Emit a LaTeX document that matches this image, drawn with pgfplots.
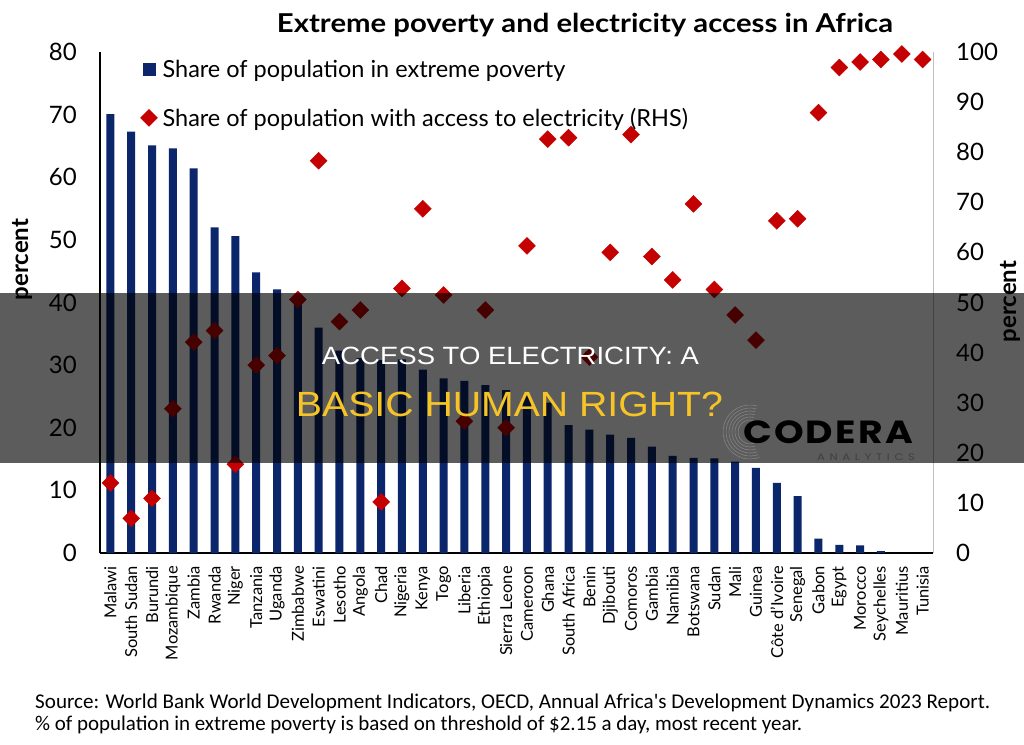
\documentclass[border=0pt]{standalone}
\usepackage{pgfplots}
\pgfplotsset{compat=1.18}
\usepackage{fontspec}
\setmainfont{Lato}
\newfontfamily\bannerfont{Liberation Sans}
\newfontfamily\logofont[LetterSpace=6]{Poppins}
\newfontfamily\smalllogofont[LetterSpace=40]{Poppins}
\newfontfamily\notefont{Carlito}
\definecolor{barblue}{RGB}{12,38,108}
\definecolor{dotred}{RGB}{196,0,0}
\definecolor{bannergold}{RGB}{247,196,38}

% Share of population in extreme poverty (left axis, percent)
\pgfplotstableread{
x  pov
0  70.1
1  67.3
2  65.1
3  64.6
4  61.4
5  52.0
6  50.6
7  44.8
8  42.1
9  39.8
10 36.0
11 32.3
12 31.1
13 30.8
14 30.9
15 29.3
16 27.9
17 27.5
18 26.8
19 26.0
20 25.0
21 24.0
22 20.4
23 19.7
24 18.9
25 18.4
26 17.0
27 15.5
28 15.2
29 15.1
30 14.6
31 13.6
32 11.2
33 9.1
34 2.3
35 1.3
36 1.2
37 0.3
38 0.0
39 0.0
}\povtable

% Share of population with access to electricity (right axis, percent)
\pgfplotstableread{
x  elec
0  14.0
1  6.9
2  10.9
3  28.8
4  42.1
5  44.4
6  17.7
7  37.5
8  39.4
9  50.6
10 78.3
11 46.2
12 48.5
13 10.2
14 52.8
15 68.7
16 51.5
17 26.3
18 48.5
19 25.0
20 61.3
21 82.6
22 82.9
23 39.1
24 60.0
25 83.5
26 59.2
27 54.5
28 69.7
29 52.6
30 47.5
31 42.5
32 66.3
33 66.7
34 87.9
35 96.9
36 98.0
37 98.5
38 99.6
39 98.5
}\electable

\begin{document}
\begin{tikzpicture}[x=1pt,y=1pt]
\useasboundingbox (0,0) rectangle (1024,744);
\fill[white] (0,0) rectangle (1024,744);

\pgfplotsset{
  chartbase/.style={
    at={(100pt,191pt)}, anchor=south west,
    scale only axis, width=833pt, height=501pt,
    xmin=-0.5, xmax=39.5,
    major tick length=0pt,
    tick label style={font=\fontsize{24}{28}\selectfont},
    /pgf/number format/assume math mode=true,
  }
}

% Bars: extreme poverty
\begin{axis}[
  chartbase,
  ymin=0, ymax=80,
  ytick={0,10,...,80},
  axis x line*=bottom, axis y line*=left,
  axis line style={-, black, line width=1.2pt},
  xtick={0,...,39},
  xticklabels={Malawi,South Sudan,Burundi,Mozambique,Zambia,Rwanda,Niger,Tanzania,Uganda,Zimbabwe,Eswatini,Lesotho,Angola,Chad,Nigeria,Kenya,Togo,Liberia,Ethiopia,Sierra Leone,Cameroon,Ghana,South Africa,Benin,Djibouti,Comoros,Gambia,Namibia,Botswana,Sudan,Mali,Guinea,Côte d'Ivoire,Senegal,Gabon,Egypt,Morocco,Seychelles,Mauritius,Tunisia},
  xticklabel style={rotate=90, anchor=east, inner sep=0pt, font=\fontsize{16.5}{18}\selectfont},
  xticklabel shift=13pt,
  yticklabel style={anchor=east, inner sep=0pt},
  yticklabel shift=23pt,
]
\addplot[ybar, bar width=8pt, fill=barblue, draw=none] table[x=x, y=pov] {\povtable};
\end{axis}

% Diamonds: electricity access
\begin{axis}[
  chartbase,
  ymin=0, ymax=100,
  ytick={0,10,...,100},
  axis x line=none, axis y line*=right,
  axis line style={-, black!25, line width=0.8pt},
  yticklabel style={anchor=west, inner sep=0pt},
  yticklabel shift=23pt,
  legend style={at={(0.0485,0.988)}, anchor=north west, draw=none, fill=none,
    font=\fontsize{23.5}{27}\selectfont, row sep=25pt, inner sep=0pt,
    /tikz/every odd column/.append style={column sep=3pt}},
  legend cell align=left,
]
\addlegendimage{only marks, color=barblue, mark=square*, mark size=6pt, mark options={fill=barblue, draw=none}}
\addlegendentry{Share of population in extreme poverty}
\addplot[only marks, color=dotred, mark=square*, mark size=6pt,
  mark options={rotate=45, fill=dotred, draw=none}] table[x=x, y=elec] {\electable};
\addlegendentry{Share of population with access to electricity (RHS)}
\end{axis}

% Titles and axis labels
\node[font=\bfseries\fontsize{26}{30}\selectfont] at (585,719)
  {\resizebox{616pt}{\height}{Extreme poverty and electricity access in Africa}};
\node[rotate=90, font=\bfseries\fontsize{24}{28}\selectfont] at (22,484.5) {percent};
\node[rotate=90, font=\bfseries\fontsize{24}{28}\selectfont] at (1010,442.5) {percent};

% Source note
\node[anchor=west, inner sep=0pt] at (35,41)
  {\resizebox{955pt}{\height}{\notefont\fontsize{21}{24}\selectfont Source: World Bank World Development Indicators, OECD, Annual Africa's Development Dynamics 2023 Report.}};
\node[anchor=west, inner sep=0pt] at (35,19)
  {\resizebox{767pt}{\height}{\notefont\fontsize{21}{24}\selectfont \% of population in extreme poverty is based on threshold of \$2.15 a day, most recent year.}};

% Headline banner
\fill[black, opacity=0.64] (0,281.3) rectangle (1024,451);
\node[text=white, inner sep=0pt] at (510.5,388)
  {\resizebox{377pt}{\height}{\bannerfont\fontsize{25}{30}\selectfont ACCESS TO ELECTRICITY: A}};
\node[text=bannergold, inner sep=0pt] at (509.5,340)
  {\resizebox{427pt}{\height}{\bannerfont\fontsize{35}{40}\selectfont BASIC HUMAN RIGHT?}};

% Logo
\foreach \r in {12,15,...,27}{
  \draw[line width=0.6pt, black!45, opacity=0.8] (750,312) ++(75:\r) arc[start angle=75, end angle=290, radius=\r];
}
\node[inner sep=0pt] at (828,311.5)
  {\resizebox{170pt}{\height}{\logofont\bfseries\fontsize{32}{34}\selectfont CODERA}};
\node[inner sep=0pt, text=black!75] at (866,287.3)
  {\resizebox{98pt}{\height}{\smalllogofont\fontsize{9.5}{10}\selectfont ANALYTICS}};
\end{tikzpicture}
\end{document}
